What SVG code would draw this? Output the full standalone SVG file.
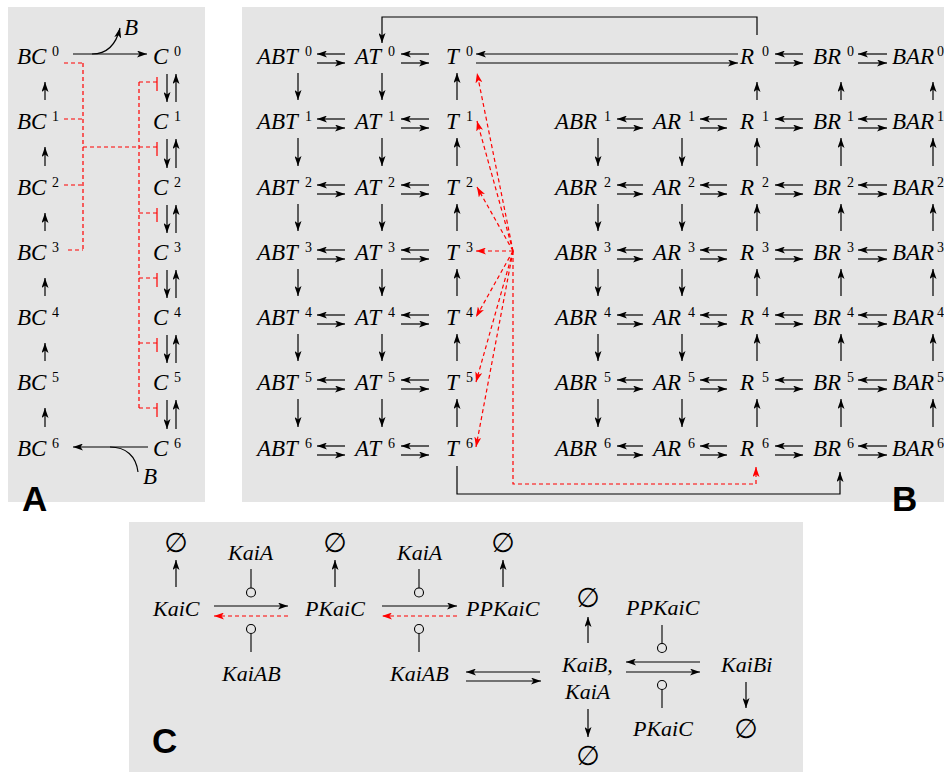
<svg xmlns="http://www.w3.org/2000/svg" width="944" height="772" viewBox="0 0 944 772">
<style>
.bg{fill:#e5e5e5}
.m{font-family:"Liberation Serif","Times New Roman",serif;font-style:italic;font-size:23px;fill:#000}
.mc{font-family:"Liberation Serif","Times New Roman",serif;font-style:italic;font-size:22px;fill:#000}
.s{font-style:normal;font-size:14px}
.e{font-family:"DejaVu Sans",sans-serif;font-size:27px;fill:#000;text-anchor:middle}
.p{font-family:"Liberation Sans",Arial,sans-serif;font-weight:bold;font-size:35px;fill:#000}
.l{stroke:#000;stroke-width:1.2;fill:none;marker-end:url(#ah)}
.n{stroke:#000;stroke-width:1.2;fill:none}
.r{stroke:#f00;stroke-width:1.2;fill:none;stroke-dasharray:4 3}
.ra{stroke:#f00;stroke-width:1.2;fill:none;stroke-dasharray:4 3;marker-end:url(#rh)}
.rb{stroke:#f00;stroke-width:1.2;fill:none}
.c{stroke:#000;stroke-width:1.1;fill:none}
</style>
<defs>
<marker id="ah" viewBox="0 0 10 7" refX="10" refY="3.5" markerWidth="10" markerHeight="7" markerUnits="userSpaceOnUse" orient="auto"><path d="M0,0 L10,3.5 L0,7 L2.5,3.5 z" fill="#000"/></marker>
<marker id="rh" viewBox="0 0 10 7" refX="10" refY="3.5" markerWidth="10" markerHeight="7" markerUnits="userSpaceOnUse" orient="auto"><path d="M0,0 L10,3.5 L0,7 L2.5,3.5 z" fill="#f00"/></marker>
</defs>
<rect class="bg" x="8" y="7" width="197" height="495"/>
<rect class="bg" x="242" y="7" width="702" height="495"/>
<rect class="bg" x="129" y="522" width="674" height="250"/>
<text class="p" x="22" y="511">A</text>
<text class="p" x="892" y="511">B</text>
<text class="p" x="152" y="753">C</text>

<!-- Panel A nodes -->
<g id="BC0"><text class="m" x="17" y="64">BC<tspan class="s" x="52" y="56">0</tspan></text></g>
<g id="BC1"><text class="m" x="17" y="129">BC<tspan class="s" x="52" y="121">1</tspan></text></g>
<g id="BC2"><text class="m" x="17" y="195">BC<tspan class="s" x="52" y="187">2</tspan></text></g>
<g id="BC3"><text class="m" x="17" y="260">BC<tspan class="s" x="52" y="252">3</tspan></text></g>
<g id="BC4"><text class="m" x="17" y="325">BC<tspan class="s" x="52" y="317">4</tspan></text></g>
<g id="BC5"><text class="m" x="17" y="390">BC<tspan class="s" x="52" y="382">5</tspan></text></g>
<g id="BC6"><text class="m" x="17" y="456">BC<tspan class="s" x="52" y="448">6</tspan></text></g>
<g id="C0"><text class="m" x="153" y="64">C<tspan class="s" x="174" y="56">0</tspan></text></g>
<g id="C1"><text class="m" x="153" y="129">C<tspan class="s" x="174" y="121">1</tspan></text></g>
<g id="C2"><text class="m" x="153" y="195">C<tspan class="s" x="174" y="187">2</tspan></text></g>
<g id="C3"><text class="m" x="153" y="260">C<tspan class="s" x="174" y="252">3</tspan></text></g>
<g id="C4"><text class="m" x="153" y="325">C<tspan class="s" x="174" y="317">4</tspan></text></g>
<g id="C5"><text class="m" x="153" y="390">C<tspan class="s" x="174" y="382">5</tspan></text></g>
<g id="C6"><text class="m" x="153" y="456">C<tspan class="s" x="174" y="448">6</tspan></text></g>
<g id="B_top"><text class="m" x="124" y="35">B</text></g>
<g id="B_bot"><text class="m" x="143" y="484">B</text></g>

<!-- Panel B nodes -->
<g id="ABT0"><text class="m" x="257" y="64">ABT<tspan class="s" x="305" y="56">0</tspan></text></g>
<g id="ABT1"><text class="m" x="257" y="129">ABT<tspan class="s" x="305" y="121">1</tspan></text></g>
<g id="ABT2"><text class="m" x="257" y="195">ABT<tspan class="s" x="305" y="187">2</tspan></text></g>
<g id="ABT3"><text class="m" x="257" y="260">ABT<tspan class="s" x="305" y="252">3</tspan></text></g>
<g id="ABT4"><text class="m" x="257" y="325">ABT<tspan class="s" x="305" y="317">4</tspan></text></g>
<g id="ABT5"><text class="m" x="257" y="390">ABT<tspan class="s" x="305" y="382">5</tspan></text></g>
<g id="ABT6"><text class="m" x="257" y="456">ABT<tspan class="s" x="305" y="448">6</tspan></text></g>
<g id="AT0"><text class="m" x="355" y="64">AT<tspan class="s" x="388" y="56">0</tspan></text></g>
<g id="AT1"><text class="m" x="355" y="129">AT<tspan class="s" x="388" y="121">1</tspan></text></g>
<g id="AT2"><text class="m" x="355" y="195">AT<tspan class="s" x="388" y="187">2</tspan></text></g>
<g id="AT3"><text class="m" x="355" y="260">AT<tspan class="s" x="388" y="252">3</tspan></text></g>
<g id="AT4"><text class="m" x="355" y="325">AT<tspan class="s" x="388" y="317">4</tspan></text></g>
<g id="AT5"><text class="m" x="355" y="390">AT<tspan class="s" x="388" y="382">5</tspan></text></g>
<g id="AT6"><text class="m" x="355" y="456">AT<tspan class="s" x="388" y="448">6</tspan></text></g>
<g id="T0"><text class="m" x="446" y="64">T<tspan class="s" x="466" y="56">0</tspan></text></g>
<g id="T1"><text class="m" x="446" y="129">T<tspan class="s" x="466" y="121">1</tspan></text></g>
<g id="T2"><text class="m" x="446" y="195">T<tspan class="s" x="466" y="187">2</tspan></text></g>
<g id="T3"><text class="m" x="446" y="260">T<tspan class="s" x="466" y="252">3</tspan></text></g>
<g id="T4"><text class="m" x="446" y="325">T<tspan class="s" x="466" y="317">4</tspan></text></g>
<g id="T5"><text class="m" x="446" y="390">T<tspan class="s" x="466" y="382">5</tspan></text></g>
<g id="T6"><text class="m" x="446" y="456">T<tspan class="s" x="466" y="448">6</tspan></text></g>
<g id="ABR1"><text class="m" x="555" y="129">ABR<tspan class="s" x="604" y="121">1</tspan></text></g>
<g id="ABR2"><text class="m" x="555" y="195">ABR<tspan class="s" x="604" y="187">2</tspan></text></g>
<g id="ABR3"><text class="m" x="555" y="260">ABR<tspan class="s" x="604" y="252">3</tspan></text></g>
<g id="ABR4"><text class="m" x="555" y="325">ABR<tspan class="s" x="604" y="317">4</tspan></text></g>
<g id="ABR5"><text class="m" x="555" y="390">ABR<tspan class="s" x="604" y="382">5</tspan></text></g>
<g id="ABR6"><text class="m" x="555" y="456">ABR<tspan class="s" x="604" y="448">6</tspan></text></g>
<g id="AR1"><text class="m" x="653" y="129">AR<tspan class="s" x="688" y="121">1</tspan></text></g>
<g id="AR2"><text class="m" x="653" y="195">AR<tspan class="s" x="688" y="187">2</tspan></text></g>
<g id="AR3"><text class="m" x="653" y="260">AR<tspan class="s" x="688" y="252">3</tspan></text></g>
<g id="AR4"><text class="m" x="653" y="325">AR<tspan class="s" x="688" y="317">4</tspan></text></g>
<g id="AR5"><text class="m" x="653" y="390">AR<tspan class="s" x="688" y="382">5</tspan></text></g>
<g id="AR6"><text class="m" x="653" y="456">AR<tspan class="s" x="688" y="448">6</tspan></text></g>
<g id="R0"><text class="m" x="740" y="64">R<tspan class="s" x="762" y="56">0</tspan></text></g>
<g id="R1"><text class="m" x="740" y="129">R<tspan class="s" x="762" y="121">1</tspan></text></g>
<g id="R2"><text class="m" x="740" y="195">R<tspan class="s" x="762" y="187">2</tspan></text></g>
<g id="R3"><text class="m" x="740" y="260">R<tspan class="s" x="762" y="252">3</tspan></text></g>
<g id="R4"><text class="m" x="740" y="325">R<tspan class="s" x="762" y="317">4</tspan></text></g>
<g id="R5"><text class="m" x="740" y="390">R<tspan class="s" x="762" y="382">5</tspan></text></g>
<g id="R6"><text class="m" x="740" y="456">R<tspan class="s" x="762" y="448">6</tspan></text></g>
<g id="BR0"><text class="m" x="813" y="64">BR<tspan class="s" x="847" y="56">0</tspan></text></g>
<g id="BR1"><text class="m" x="813" y="129">BR<tspan class="s" x="847" y="121">1</tspan></text></g>
<g id="BR2"><text class="m" x="813" y="195">BR<tspan class="s" x="847" y="187">2</tspan></text></g>
<g id="BR3"><text class="m" x="813" y="260">BR<tspan class="s" x="847" y="252">3</tspan></text></g>
<g id="BR4"><text class="m" x="813" y="325">BR<tspan class="s" x="847" y="317">4</tspan></text></g>
<g id="BR5"><text class="m" x="813" y="390">BR<tspan class="s" x="847" y="382">5</tspan></text></g>
<g id="BR6"><text class="m" x="813" y="456">BR<tspan class="s" x="847" y="448">6</tspan></text></g>
<g id="BAR0"><text class="m" x="892" y="64">BAR<tspan class="s" x="937" y="56">0</tspan></text></g>
<g id="BAR1"><text class="m" x="892" y="129">BAR<tspan class="s" x="937" y="121">1</tspan></text></g>
<g id="BAR2"><text class="m" x="892" y="195">BAR<tspan class="s" x="937" y="187">2</tspan></text></g>
<g id="BAR3"><text class="m" x="892" y="260">BAR<tspan class="s" x="937" y="252">3</tspan></text></g>
<g id="BAR4"><text class="m" x="892" y="325">BAR<tspan class="s" x="937" y="317">4</tspan></text></g>
<g id="BAR5"><text class="m" x="892" y="390">BAR<tspan class="s" x="937" y="382">5</tspan></text></g>
<g id="BAR6"><text class="m" x="892" y="456">BAR<tspan class="s" x="937" y="448">6</tspan></text></g>

<!-- Panel C nodes -->
<g id="KaiC"><text class="mc" x="153" y="616">KaiC</text></g>
<g id="PKaiC"><text class="mc" x="305" y="616">PKaiC</text></g>
<g id="PPKaiC"><text class="mc" x="466" y="616">PPKaiC</text></g>
<g id="KaiA1"><text class="mc" x="228" y="560">KaiA</text></g>
<g id="KaiA2"><text class="mc" x="397" y="560">KaiA</text></g>
<g id="KaiAB1"><text class="mc" x="222" y="681">KaiAB</text></g>
<g id="KaiAB2"><text class="mc" x="390" y="681">KaiAB</text></g>
<g id="KaiBKaiA"><text class="mc" x="562" y="672">KaiB,</text><text class="mc" x="565" y="699">KaiA</text></g>
<g id="PPKaiC2"><text class="mc" x="626" y="615">PPKaiC</text></g>
<g id="PKaiC2"><text class="mc" x="633" y="736">PKaiC</text></g>
<g id="KaiBi"><text class="mc" x="721" y="672">KaiBi</text></g>
<g id="null1"><text class="e" x="176" y="552">∅</text></g>
<g id="null2"><text class="e" x="335" y="552">∅</text></g>
<g id="null3"><text class="e" x="503" y="552">∅</text></g>
<g id="null4"><text class="e" x="588" y="607">∅</text></g>
<g id="null5"><text class="e" x="588" y="765">∅</text></g>
<g id="null6"><text class="e" x="746" y="738">∅</text></g>

<g id="connectors">
<!-- Panel A -->
<path class="l" d="M45,100V82"/><path class="l" d="M45,166V147"/><path class="l" d="M45,231V213"/>
<path class="l" d="M45,296V278"/><path class="l" d="M45,361V343"/><path class="l" d="M45,427V408"/>
<path class="l" d="M167,74V102"/><path class="l" d="M167,139V168"/><path class="l" d="M167,205V233"/>
<path class="l" d="M167,270V298"/><path class="l" d="M167,335V363"/><path class="l" d="M167,400V429"/>
<path class="l" d="M176,102V74"/><path class="l" d="M176,168V139"/><path class="l" d="M176,233V205"/>
<path class="l" d="M176,298V270"/><path class="l" d="M176,363V335"/><path class="l" d="M176,429V400"/>
<path class="l" d="M73,54H147"/>
<path class="l" d="M92,54C106,54 116,45 120,28"/>
<path class="l" d="M148,447H73"/>
<path class="n" d="M138,472C136,456 126,447 110,447"/>
<path class="r" d="M64,63H83M64,119H83M64,185H83M68,250H83M83,63V250M83,147H139"/>
<path class="r" d="M139,82V408M139,82H157M139,147H157M139,213H157M139,278H157M139,343H157M139,408H157"/>
<path class="rb" d="M157,77V91M157,142V156M157,208V222M157,273V287M157,338V352M157,403V417"/>
<!-- Panel B horizontal pairs: ABT-AT -->
<path class="l" d="M345,54H317"/><path class="l" d="M345,119H317"/><path class="l" d="M345,185H317"/><path class="l" d="M345,250H317"/><path class="l" d="M345,315H317"/><path class="l" d="M345,380H317"/><path class="l" d="M345,446H317"/>
<path class="l" d="M317,63H345"/><path class="l" d="M317,128H345"/><path class="l" d="M317,194H345"/><path class="l" d="M317,259H345"/><path class="l" d="M317,324H345"/><path class="l" d="M317,389H345"/><path class="l" d="M317,455H345"/>
<!-- AT-T -->
<path class="l" d="M429,54H401"/><path class="l" d="M429,119H401"/><path class="l" d="M429,185H401"/><path class="l" d="M429,250H401"/><path class="l" d="M429,315H401"/><path class="l" d="M429,380H401"/><path class="l" d="M429,446H401"/>
<path class="l" d="M401,63H429"/><path class="l" d="M401,128H429"/><path class="l" d="M401,194H429"/><path class="l" d="M401,259H429"/><path class="l" d="M401,324H429"/><path class="l" d="M401,389H429"/><path class="l" d="M401,455H429"/>
<!-- ABR-AR -->
<path class="l" d="M643,119H617"/><path class="l" d="M643,185H617"/><path class="l" d="M643,250H617"/><path class="l" d="M643,315H617"/><path class="l" d="M643,380H617"/><path class="l" d="M643,446H617"/>
<path class="l" d="M617,128H643"/><path class="l" d="M617,194H643"/><path class="l" d="M617,259H643"/><path class="l" d="M617,324H643"/><path class="l" d="M617,389H643"/><path class="l" d="M617,455H643"/>
<!-- AR-R -->
<path class="l" d="M727,119H700"/><path class="l" d="M727,185H700"/><path class="l" d="M727,250H700"/><path class="l" d="M727,315H700"/><path class="l" d="M727,380H700"/><path class="l" d="M727,446H700"/>
<path class="l" d="M700,128H727"/><path class="l" d="M700,194H727"/><path class="l" d="M700,259H727"/><path class="l" d="M700,324H727"/><path class="l" d="M700,389H727"/><path class="l" d="M700,455H727"/>
<!-- R-BR -->
<path class="l" d="M803,54H775"/><path class="l" d="M803,119H775"/><path class="l" d="M803,185H775"/><path class="l" d="M803,250H775"/><path class="l" d="M803,315H775"/><path class="l" d="M803,380H775"/><path class="l" d="M803,446H775"/>
<path class="l" d="M775,63H803"/><path class="l" d="M775,128H803"/><path class="l" d="M775,194H803"/><path class="l" d="M775,259H803"/><path class="l" d="M775,324H803"/><path class="l" d="M775,389H803"/><path class="l" d="M775,455H803"/>
<!-- BR-BAR -->
<path class="l" d="M887,54H858"/><path class="l" d="M887,119H858"/><path class="l" d="M887,185H858"/><path class="l" d="M887,250H858"/><path class="l" d="M887,315H858"/><path class="l" d="M887,380H858"/><path class="l" d="M887,446H858"/>
<path class="l" d="M858,63H887"/><path class="l" d="M858,128H887"/><path class="l" d="M858,194H887"/><path class="l" d="M858,259H887"/><path class="l" d="M858,324H887"/><path class="l" d="M858,389H887"/><path class="l" d="M858,455H887"/>
<!-- T0-R0 -->
<path class="l" d="M738,54H476"/>
<path class="l" d="M476,63H738"/>
<!-- Panel B verticals -->
<path class="l" d="M298,73V100"/><path class="l" d="M298,138V166"/><path class="l" d="M298,204V231"/><path class="l" d="M298,269V296"/><path class="l" d="M298,334V361"/><path class="l" d="M298,399V427"/>
<path class="l" d="M382,73V100"/><path class="l" d="M382,138V166"/><path class="l" d="M382,204V231"/><path class="l" d="M382,269V296"/><path class="l" d="M382,334V361"/><path class="l" d="M382,399V427"/>
<path class="l" d="M457,100V73"/><path class="l" d="M457,166V138"/><path class="l" d="M457,231V204"/><path class="l" d="M457,296V269"/><path class="l" d="M457,361V334"/><path class="l" d="M457,427V399"/>
<path class="l" d="M598,138V166"/><path class="l" d="M598,204V231"/><path class="l" d="M598,269V296"/><path class="l" d="M598,334V361"/><path class="l" d="M598,399V427"/>
<path class="l" d="M682,138V166"/><path class="l" d="M682,204V231"/><path class="l" d="M682,269V296"/><path class="l" d="M682,334V361"/><path class="l" d="M682,399V427"/>
<path class="l" d="M757,100V82"/><path class="l" d="M757,166V138"/><path class="l" d="M757,231V204"/><path class="l" d="M757,296V269"/><path class="l" d="M757,361V334"/><path class="l" d="M757,427V399"/>
<path class="l" d="M841,100V82"/><path class="l" d="M841,166V138"/><path class="l" d="M841,231V204"/><path class="l" d="M841,296V269"/><path class="l" d="M841,361V334"/><path class="l" d="M841,427V399"/>
<path class="l" d="M933,100V82"/><path class="l" d="M933,166V138"/><path class="l" d="M933,231V204"/><path class="l" d="M933,296V269"/><path class="l" d="M933,361V334"/><path class="l" d="M933,427V399"/>
<path class="l" d="M757,35V17H382V43"/>
<path class="l" d="M457,466V494H840V472"/>
<path class="ra" d="M513,251V484H756V467"/>
<path class="ra" d="M513,251L477,73"/>
<path class="ra" d="M513,251L477,121"/>
<path class="ra" d="M513,251L477,187"/>
<path class="ra" d="M513,251H476"/>
<path class="ra" d="M513,251L476,317"/>
<path class="ra" d="M513,251L476,382"/>
<path class="ra" d="M513,251L476,447"/>
<!-- Panel C -->
<path class="l" d="M176,587V560"/>
<path class="l" d="M335,587V560"/>
<path class="l" d="M503,587V560"/>
<path class="l" d="M214,606H288"/>
<path class="ra" d="M288,616H214"/>
<path class="l" d="M382,606H457"/>
<path class="ra" d="M457,616H382"/>
<path class="c" d="M251,569V588M251,634V652M419,569V588M419,634V652"/>
<circle class="c" cx="251" cy="592.5" r="4.5"/>
<circle class="c" cx="251" cy="629" r="4.5"/>
<circle class="c" cx="419" cy="592.5" r="4.5"/>
<circle class="c" cx="419" cy="629" r="4.5"/>
<path class="l" d="M540,672H466"/>
<path class="l" d="M466,681H541"/>
<path class="l" d="M588,643V617"/>
<path class="l" d="M588,709V737"/>
<path class="c" d="M662,625V643.5M662,689.5V708"/>
<circle class="c" cx="662" cy="648" r="4.5"/>
<circle class="c" cx="662" cy="685" r="4.5"/>
<path class="l" d="M700,662H626"/>
<path class="l" d="M626,672H700"/>
<path class="l" d="M746,682V708"/>
</g>
</svg>
